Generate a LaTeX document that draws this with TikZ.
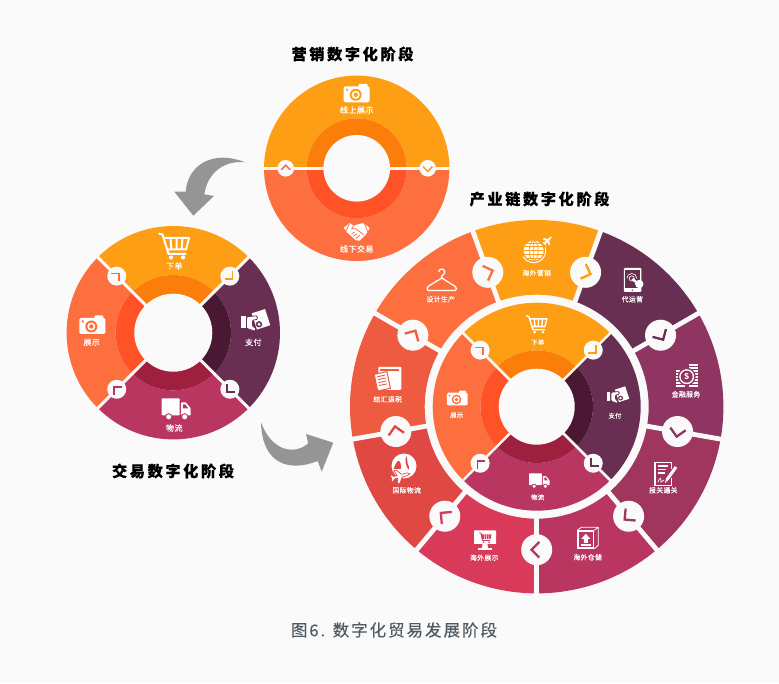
\documentclass[tikz,border=0pt]{standalone}
\usepackage{fontspec}
\usetikzlibrary{calc}
\setmainfont{Noto Sans CJK SC}
\newfontfamily\titlefont[LetterSpace=17,FakeBold=.25]{Noto Sans CJK SC}
\newfontfamily\captionfont[LetterSpace=12,FakeBold=.2]{Noto Sans CJK SC}
\newfontfamily\labelfont[LetterSpace=6,FakeBold=.35]{Noto Sans CJK SC}
\definecolor{pagebg}{HTML}{FAFAFA}
\definecolor{ringorange}{HTML}{FD9E14}
\definecolor{darkorange}{HTML}{FC7E0A}
\definecolor{ringcoral}{HTML}{FE6F40}
\definecolor{darkcoral}{HTML}{FF5226}
\definecolor{ringpurple}{HTML}{692F52}
\definecolor{darkpurple}{HTML}{4A1833}
\definecolor{ringcrimson}{HTML}{B8365F}
\definecolor{darkcrimson}{HTML}{9E1F3E}
\definecolor{ringplum}{HTML}{8F3562}
\definecolor{ringwine}{HTML}{A0365E}
\definecolor{ringpink}{HTML}{D93A5A}
\definecolor{ringred}{HTML}{E04844}
\definecolor{ringtomato}{HTML}{EE5B40}
\definecolor{arrowgrey}{HTML}{959595}
\definecolor{captiongrey}{HTML}{4E5A64}
\tikzset{
  titlelabel/.style={text=black,font=\titlefont\bfseries\fontsize{15.2}{18}\selectfont},
  captionlabel/.style={text=captiongrey,font=\captionfont\fontsize{16.5}{20}\selectfont},
  ringlabel/.style={text=white,font=\labelfont\fontsize{8}{9}\selectfont},
  outerlabel/.style={text=white,font=\labelfont\fontsize{6.8}{8}\selectfont},
  innerlabel/.style={text=white,font=\labelfont\fontsize{6.3}{8}\selectfont},
  badge/.style={circle,fill=pagebg,inner sep=0pt},
  % Symbole
  pics/camera/.style={code={
    \fill[white,rounded corners=1.5] (-13,-9) rectangle (13,7);
    \fill[white,rounded corners=1] (2,5) rectangle (11,9.5);
    \fill[#1] (-1,-1.5) circle (6);
    \fill[white] (-1,-1.5) circle (4);
    \fill[#1] (-1,-1.5) circle (2.2);
    \fill[#1] (-9.5,3.5) circle (1.3);
  }},
  pics/cart/.style={code={
    \draw[white,line width=#1,line join=round] (-15.5,12.5) -- (-11.5,11.5) -- (-5.5,-8) -- (12,-8);
    \draw[white,line width=#1,line join=round] (-10,8) -- (15,8) -- (12,-3.5) -- (-7,-3.5);
    \draw[white,line width=#1] (-3.5,8) -- (-2.5,-3.5) (2.5,8) -- (2.5,-3.5) (8.5,8) -- (7.5,-3.5);
    \fill[white] (-3,-11.5) circle (2.1) (9,-11.5) circle (2.1);
  }},
  pics/handshake/.style={code={
    \fill[white] (-13,4) -- (-7,8.5) -- (-3,6) -- (0,7) -- (6,8.5) -- (9,7) -- (13,3.5) -- (9,-3) -- (3,-9)
      -- (-1,-8.5) -- (-7,-3) -- (-9.5,-1) -- cycle;
    \draw[#1,line width=.8] (-7.5,7.5) -- (-11,0) (8,8) -- (11,0);
    \draw[#1,line width=.8] (-3,6) -- (-5,3) -- (-1,3) -- (7,-3);
    \draw[#1,line width=.8] (-5,-2) -- (-2,-.5) (-3.5,-4.5) -- (0,-2) (-1,-7) -- (3,-3.5);
  }},
  pics/pay/.style={code={
    \fill[white,rotate around={18:(7,4)}] (0,-4.5) rectangle (14,12.5);
    \fill[#1] (5,-1) circle (3.2);
    \fill[white] (5,-1) circle (1.7);
    \fill[white] (-13,-5) rectangle (-8.5,7);
    \draw[#1,line width=.8,fill=white,rounded corners=1] (-7.5,-5) -- (-7.5,6.5) -- (3,7.5) -- (3.5,4) -- (-1.5,3)
      -- (-1.5,-3) -- (2,-5) -- (1,-8) -- cycle;
  }},
  pics/truck/.style={code={
    \fill[white,rounded corners=.6] (-14,-6) rectangle (4,11);
    \fill[white,rounded corners=.6] (5.5,-6) -- (5.5,7) -- (10,7) -- (15,1) -- (15,-6) -- cycle;
    \fill[#1] (7.5,1) -- (7.5,5) -- (9.5,5) -- (12.5,1) -- cycle;
    \fill[#1] (-7,-7.5) circle (3.6) (9,-7.5) circle (3.6);
    \fill[white] (-7,-7.5) circle (2.5) (9,-7.5) circle (2.5);
  }},
  pics/globeplane/.style={code={
    \fill[white] (-1.3,2) circle (10);
    \begin{scope}
      \clip (-1.3,2) circle (10);
      \draw[#1,line width=.7] (-1.3,2) ellipse (4.5 and 10) (-1.3,-8) -- (-1.3,12);
      \draw[#1,line width=.7] (-12,2) -- (9,2) (-12,6) -- (9,6) (-12,-2) -- (9,-2) (-12,9.5) -- (9,9.5) (-12,-5.5) -- (9,-5.5);
    \end{scope}
    \draw[white,line width=1] (-12,-4) arc[start angle=210,end angle=375,radius=12.2];
    \fill[white,shift={(13,12.5)},rotate=45,scale=.75] (7,0) -- (5,1) -- (1,1) -- (-2,6) -- (-4,6) -- (-2.5,1) -- (-5,1) -- (-6.5,3) -- (-7.5,3)
      -- (-7,0) -- (-7.5,-3) -- (-6.5,-3) -- (-5,-1) -- (-2.5,-1) -- (-4,-6) -- (-2,-6) -- (1,-1) -- (5,-1) -- cycle;
  }},
  pics/tablet/.style={code={
    \fill[white,rounded corners=1] (-9.5,-12) rectangle (8,12);
    \fill[#1] (-8,-8.5) rectangle (6.5,9.5);
    \fill[#1] (-1,-10.3) circle (.8);
    \draw[white,line width=.6] (-1.5,1.5) circle (2.6);
    \draw[white,line width=.6] (-6.5,1.5) arc[start angle=180,end angle=0,radius=5];
    \draw[white,line width=2.4] (-1,1) -- (4,-3);
    \fill[white] (6,-4) circle (4.2);
  }},
  pics/coins/.style={code={
    \foreach \y in {-11,-8,...,4} {\fill[white] (-11,\y) rectangle (-2,\y+1.7);}
    \foreach \y in {-11,-8,...,10} {\fill[white] (2,\y) rectangle (11,\y+1.7);}
    \fill[#1] (0,-1) circle (9);
    \fill[white] (0,-1) circle (7.5);
    \fill[#1] (0,-1) circle (6);
    \node[text=white,font=\bfseries\fontsize{8}{8}\selectfont,inner sep=0pt] (coinmark) at (0,-1) {S};
  }},
  pics/report/.style={code={
    \draw[white,line width=1.1] (-11,-11.5) rectangle (5.5,11.5);
    \draw[white,line width=1.3] (-8,8) -- (2,8) (-8,4.5) -- (0,4.5) (-8,1) -- (-1,1);
    \draw[white,line width=.7] (-8,-8) .. controls (-6,-3) and (-5,-3) .. (-5,-8) -- (-2,-6);
    \draw[#1,line width=5] (1,-6) -- (10,7);
    \draw[white,line width=3] (1.5,-5) -- (10,7);
    \fill[white] (-1,-9) -- (.2,-3.8) -- (2.8,-5.6) -- cycle;
  }},
  pics/storebox/.style={code={
    \fill[white] (-11,-10.5) rectangle (6,8);
    \fill[#1] (-9.5,-9) rectangle (4.5,6.5);
    \draw[white,line width=.8] (-11,8) -- (-7,11) -- (10,11) -- (10,-7) -- (6,-10.5) (6,8) -- (10,11);
    \fill[white] (-2.5,4.5) -- (2,-.5) -- (-.5,-.5) -- (-.5,-4.5) -- (-4.5,-4.5) -- (-4.5,-.5) -- (-7,-.5) -- cycle;
    \fill[white] (-7.5,-7.5) rectangle (2.5,-5.8);
  }},
  pics/monitor/.style={code={
    \fill[white,rounded corners=.6] (-11,-4) rectangle (11,9.5);
    \fill[white] (-2.5,-4) -- (2.5,-4) -- (3,-8) -- (-3,-8) -- cycle;
    \fill[white] (-7,-10) rectangle (7,-8);
    \draw[#1,line width=.9,line join=round] (-6,7) -- (-4,7) -- (-2.5,-.5) -- (5,-.5);
    \fill[#1] (-3.8,5.5) -- (6.5,5.5) -- (5.5,1) -- (-3,1) -- cycle;
    \draw[white,line width=.5] (-.8,5.5) -- (-.5,1) (1.5,5.5) -- (1.5,1) (4,5.5) -- (3.6,1);
    \fill[#1] (-1.5,-2.2) circle (.9) (4,-2.2) circle (.9);
  }},
  pics/earthplane/.style={code={
    \fill[white] (-1.7,4) circle (12.5);
    \fill[#1] (-8,9) .. controls (-6,10) and (-5,8) .. (-5,6) .. controls (-5,4) and (-4,3) .. (-5,1) -- (-12,1) .. controls (-11,4) and (-10,7) .. (-8,9) -- cycle;
    \fill[#1] (1,14) .. controls (2.5,11) and (1,8) .. (2,6) .. controls (3,4) and (4,3) .. (3,0) .. controls (1.5,2) and (.5,4) .. (0,7) .. controls (-.5,10) and (-.5,12) .. (1,14) -- cycle;
    \draw[#1,line width=.7,fill=white,shift={(-5,-6)},rotate=15,scale=1.35] (7,0) -- (5,1) -- (1,1) -- (-2,5) -- (-4,5) -- (-2.5,1) -- (-5,1) -- (-6.5,2.5) -- (-7.5,2.5)
      -- (-7,0) -- (-7.5,-2.5) -- (-6.5,-2.5) -- (-5,-1) -- (-2.5,-1) -- (-4,-5) -- (-2,-5) -- (1,-1) -- (5,-1) -- cycle;
  }},
  pics/folderdoc/.style={code={
    \fill[white,rounded corners=1] (-10,-11.5) rectangle (13,11.5);
    \fill[#1] (-8,7.5) rectangle (11,9.2);
    \begin{scope}[rotate around={12:(-6,-3)}]
      \draw[#1,line width=1,fill=white] (-12.5,-11.5) rectangle (.5,5.5);
      \draw[#1,line width=.9] (-10,2.5) -- (-2,2.5) (-10,-.5) -- (-2,-.5) (-10,-3.5) -- (-2,-3.5) (-10,-6.5) -- (-2,-6.5);
    \end{scope}
  }},
  pics/hanger/.style={code={
    \draw[white,line width=1.3,rounded corners=1.2] (-3,8) arc[start angle=180,end angle=-90,radius=3] -- (0,2)
      -- (14.5,-7) -- (14.5,-10.5) -- (-14.5,-10.5) -- (-14.5,-7) -- (0,2);
  }},
}
% Ringsegment: Mitte, Start, Ende, innen, aussen, Farbe
\newcommand{\ringsector}[6]{%
  \fill[#6,shift={(#1)}] (#2:#4) arc[start angle=#2,end angle=#3,radius=#4] -- (#3:#5)
    arc[start angle=#3,end angle=#2,radius=#5] -- cycle;}
% Marke: Name, Mitte, Winkel, Abstand, Radius, Schenkel, Breite, Farbe
\newcommand{\flowbadge}[8]{%
  \node[badge,minimum size=2*#5 pt] (#1) at ($(#2)+(#3:#4)$) {};
  \draw[#8,line width=#7,shift={(#1.center)},rotate=#3-90,xshift=.47*#6] (135:#6) -- (0,0) -- (-135:#6);}
% Vierteiliger Ring
\newcommand{\stagering}[7]{% Name, Mitte, aussen, dunkel, Loch, Abstand, Linie
  \coordinate (#1) at (#2);
  \foreach \a/\b/\col/\dark in {45/135/ringorange/darkorange,135/225/ringcoral/darkcoral,225/315/ringcrimson/darkcrimson,-45/45/ringpurple/darkpurple} {
    \ringsector{#1}{\a}{\b}{#4}{#3}{\col}
    \ringsector{#1}{\a}{\b}{#5-1}{#4}{\dark}
  }
  \fill[pagebg] (#1) circle (#5);
  \foreach \a in {45,135,225,315} {\draw[pagebg,line width=#7,shift={(#1)}] (\a:#5-2) -- (\a:#3+1);}
  \flowbadge{#1b1}{#1}{135}{#6}{9.5}{8}{1.8pt}{ringcoral}
  \flowbadge{#1b2}{#1}{45}{#6}{9.5}{8}{1.8pt}{ringorange}
  \flowbadge{#1b3}{#1}{-45}{#6}{9.5}{8}{1.8pt}{ringpurple}
  \flowbadge{#1b4}{#1}{-135}{#6}{9.5}{8}{1.8pt}{ringcrimson}
}
\begin{document}
\begin{tikzpicture}[x=1pt,y=1pt]
  \useasboundingbox (0,0) rectangle (779,683);
  \fill[pagebg] (0,0) rectangle (779,683);

  % Marketing
  \coordinate (market) at (356.7,514.7);
  \ringsector{market}{0}{180}{50}{92.7}{ringorange}
  \ringsector{market}{180}{360}{50}{92.7}{ringcoral}
  \ringsector{market}{0}{180}{32}{50}{darkorange}
  \ringsector{market}{180}{360}{32}{50}{darkcoral}
  \fill[pagebg] (market) circle (33.3);
  \draw[pagebg,line width=3.2pt,shift={(market)}] (0:32) -- (0:94) (180:32) -- (180:94);
  \flowbadge{marketleft}{market}{180}{71}{8.3}{6.5}{1.5pt}{ringcoral}
  \flowbadge{marketright}{market}{0}{71}{8.3}{6.5}{1.5pt}{ringorange}
  \pic at (356.7,589.7) {camera=ringorange};
  \node[ringlabel] (online) at (356.7,573) {线上展示};
  \pic at (356.7,451.3) {handshake=ringcoral};
  \node[ringlabel] (offline) at (356.7,434) {线下交易};
  \node[titlelabel] (markettitle) at (352.5,629) {营销数字化阶段};

  % Handel
  \stagering{trade}{173.3,350.3}{106.7}{57.7}{39}{80}{3pt}
  \pic at (174,437) {cart=2pt};
  \node[ringlabel] (tradeorder) at (174.3,417) {下单};
  \pic at (92.3,358) {camera=ringcoral};
  \node[ringlabel] (tradeshow) at (91.7,340.7) {展示};
  \pic at (254,359.7) {pay=ringpurple};
  \node[ringlabel] (tradepay) at (253.3,340.7) {支付};
  \pic at (175.7,273.7) {truck=ringcrimson};
  \node[ringlabel] (tradeship) at (174.3,255) {物流};
  \node[titlelabel] (tradetitle) at (173,212) {交易数字化阶段};

  % Pfeile
  \fill[arrowgrey] (245,520.7) .. controls (215,533) and (188,520) .. (185.7,491.3) -- (174.3,491.3) -- (193.3,467.3)
    -- (214,487) -- (204.3,488.7) .. controls (207,508) and (222,523) .. (245,520.7) -- cycle;
  \fill[arrowgrey] (261,260.7) .. controls (272,231) and (295,228) .. (308.3,239.7) -- (306,249) -- (333.3,240.3)
    -- (321.7,211.3) -- (317.7,222) .. controls (290,211) and (262,218) .. (261,260.7) -- cycle;

  % Lieferkette, aussen
  \coordinate (chain) at (536.7,276.3);
  \foreach \a/\b/\col in {70/110/ringorange,30/70/ringpurple,-10/30/ringplum,-50/-10/ringwine,-90/-50/ringcrimson,
      -130/-90/ringpink,-170/-130/ringred,150/190/ringtomato,110/150/ringcoral} {
    \ringsector{chain}{\a}{\b}{112}{186.7}{\col}
  }
  \foreach \a in {70,30,-10,-50,-90,-130,-170,150,110} {
    \draw[pagebg,line width=4.8pt,shift={(chain)}] (\a:110) -- (\a:188);
  }
  \foreach \a/\col [count=\i] in {110/ringcoral,70/ringorange,30/ringpurple,-10/ringplum,-50/ringwine,-90/ringcrimson,
      -130/ringpink,-170/ringred,150/ringtomato} {
    \flowbadge{chainb\i}{chain}{\a}{143}{15.5}{11}{2.3pt}{\col}
  }

  % Lieferkette, innen
  \stagering{stage}{536.7,276.3}{104}{56.3}{38}{80}{2.6pt}
  \pic[scale=.68] at (536.7,358.7) {cart=1.4pt};
  \node[innerlabel] (stageorder) at (537.7,340.7) {下单};
  \pic[scale=.8] at (457.3,284.7) {camera=ringcoral};
  \node[innerlabel] (stageshow) at (456.7,267.7) {展示};
  \pic[scale=.77] at (616.7,285.7) {pay=ringpurple};
  \node[innerlabel] (stagepay) at (615,267.3) {支付};
  \pic[scale=.7] at (539,202) {truck=ringcrimson};
  \node[innerlabel] (stageship) at (537.7,185.7) {物流};

  \pic at (535,430.3) {globeplane=ringorange};
  \node[outerlabel] (chainmarket) at (536.7,410) {海外营销};
  \pic at (633.3,403) {tablet=ringpurple};
  \node[outerlabel] (chainagent) at (632.3,383.7) {代运营};
  \pic at (686.7,307.3) {coins=ringplum};
  \node[outerlabel] (chainfinance) at (686,288.7) {金融服务};
  \pic at (666,209) {report=ringwine};
  \node[outerlabel] (chaincustoms) at (663.3,192.7) {报关通关};
  \pic at (588.3,144.7) {storebox=ringcrimson};
  \node[outerlabel] (chainstore) at (587.7,125.7) {海外仓储};
  \pic at (485,143) {monitor=ringpink};
  \node[outerlabel] (chainfair) at (484.3,125.3) {海外展示};
  \pic at (405.7,213) {earthplane=ringred};
  \node[outerlabel] (chainship) at (406.7,192.7) {国际物流};
  \pic at (388.3,304.7) {folderdoc=ringtomato};
  \node[outerlabel] (chaintax) at (387.7,283.7) {结汇退税};
  \pic at (441.7,403) {hanger};
  \node[outerlabel] (chaindesign) at (440.7,383.7) {设计生产};
  \node[titlelabel] (chaintitle) at (539.5,484) {产业链数字化阶段};

  \node[captionlabel] (caption) at (394,53) {图6. 数字化贸易发展阶段};
\end{tikzpicture}
\end{document}
